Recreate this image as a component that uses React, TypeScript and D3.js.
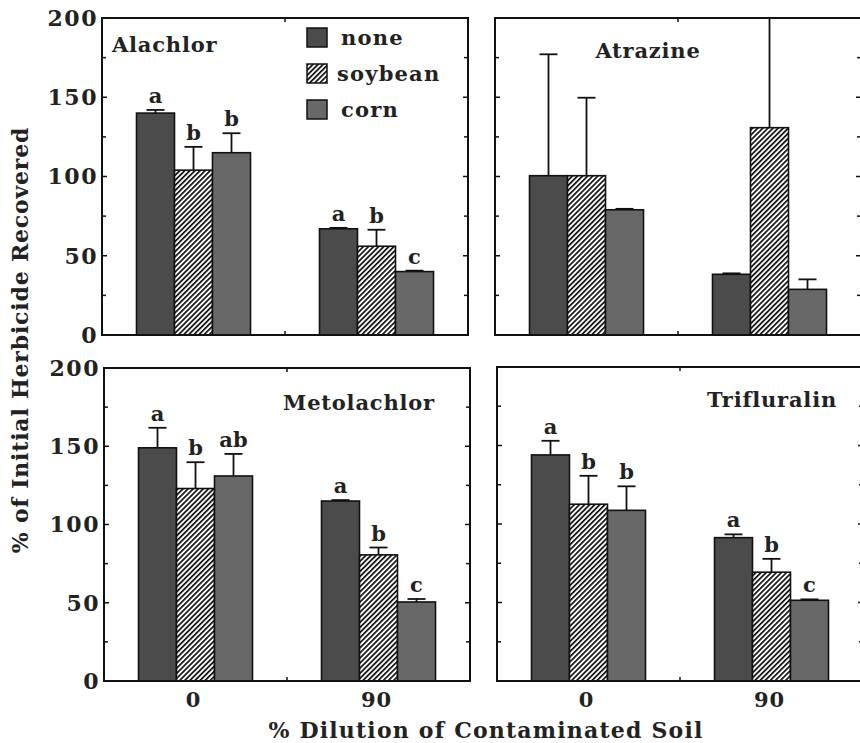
import React from "react";
import * as d3 from "d3";

// Dilution levels (x groups) and cover-crop treatments (bars within a group)
const groups = ["0", "90"];
const treatments = ["none", "soybean", "corn"];
const yTicks = [0, 50, 100, 150, 200];

// Mean % of initial herbicide recovered, ordered [0: none, soybean, corn, 90: none, soybean, corn]
const alachlorMean = [140, 104, 115, 67, 56, 40];
const alachlorErr = [2, 14.7, 12.3, 0.6, 10.4, 0.6];
const alachlorLetters = ["a", "b", "b", "a", "b", "c"];

const atrazineMean = [100.5, 100.5, 79, 38.3, 130.8, 28.8];
const atrazineErr = [76.6, 49.2, 0.6, 0.6, 100, 6.3];
const atrazineLetters = ["", "", "", "", "", ""];

const metolachlorMean = [149, 123, 131, 115, 80.6, 50.5];
const metolachlorErr = [12.8, 16.8, 14.1, 0.6, 4.7, 1.9];
const metolachlorLetters = ["a", "b", "ab", "a", "b", "c"];

const trifluralinMean = [144, 112.6, 108.7, 91.3, 69.3, 51.4];
const trifluralinErr = [9, 18.1, 15.3, 2.1, 8.5, 0.6];
const trifluralinLetters = ["a", "b", "b", "a", "b", "c"];

const FONT = "'DejaVu Serif', 'Liberation Serif', serif";

const panels = [
  { name: "Alachlor", mean: alachlorMean, err: alachlorErr, letters: alachlorLetters,
    box: { x: 102, y: 18, w: 366, h: 317 }, title: { x: 10, y: 34, anchor: "start" },
    yLabels: true, xLabels: false, legend: true },
  { name: "Atrazine", mean: atrazineMean, err: atrazineErr, letters: atrazineLetters,
    box: { x: 495, y: 18, w: 366, h: 317 }, title: { x: 153, y: 40, anchor: "middle" },
    yLabels: false, xLabels: false, legend: false },
  { name: "Metolachlor", mean: metolachlorMean, err: metolachlorErr, letters: metolachlorLetters,
    box: { x: 104, y: 368, w: 366, h: 313 }, title: { x: 255, y: 42, anchor: "middle" },
    yLabels: true, xLabels: true, legend: false },
  { name: "Trifluralin", mean: trifluralinMean, err: trifluralinErr, letters: trifluralinLetters,
    box: { x: 497, y: 367, w: 366, h: 314 }, title: { x: 340, y: 40, anchor: "end" },
    yLabels: false, xLabels: true, legend: false },
];

const fills: Record<string, string> = {
  none: "#4b4b4b",
  soybean: "url(#hatch)",
  corn: "#686868",
};

function Panel({ p }: { p: (typeof panels)[number] }) {
  const { w, h } = p.box;
  const y = d3.scaleLinear().domain([0, 200]).range([h, 0]);
  const x = d3.scalePoint<string>().domain(groups).range([0, w]).padding(0.5);
  const inner = d3.scaleBand<string>().domain(treatments).range([-57, 57]);
  const minor = d3.range(0, 201, 25);

  return (
    <g transform={`translate(${p.box.x},${p.box.y})`}>
      {/* bars, error bars and significance letters */}
      {groups.map((g, gi) =>
        treatments.map((t, ti) => {
          const i = gi * 3 + ti;
          const bx = (x(g) as number) + (inner(t) as number);
          const bw = inner.bandwidth();
          const cx = bx + bw / 2;
          const top = p.mean[i] + p.err[i];
          const clipped = top > 200;
          const yTop = y(Math.min(top, 200));
          return (
            <g key={`${g}-${t}`}>
              <line x1={cx} x2={cx} y1={y(p.mean[i])} y2={yTop} stroke="#111" strokeWidth={1.8} />
              {!clipped && (
                <line x1={cx - 9} x2={cx + 9} y1={yTop} y2={yTop} stroke="#111" strokeWidth={1.8} />
              )}
              <rect x={bx} y={y(p.mean[i])} width={bw} height={h - y(p.mean[i])}
                fill={fills[t]} stroke="#111" strokeWidth={1.6} />
              {p.letters[i] && (
                <text x={cx} y={yTop - 7} textAnchor="middle" fontSize={21}
                  fontWeight="bold" fill="#222">{p.letters[i]}</text>
              )}
            </g>
          );
        })
      )}

      {/* frame */}
      <rect x={0} y={0} width={w} height={h} fill="none" stroke="#111" strokeWidth={2} />

      {/* inward ticks on left and right edges */}
      {minor.map((v) => {
        const len = v % 50 === 0 ? 5 : 4;
        return (
          <g key={v}>
            <line x1={0} x2={len} y1={y(v)} y2={y(v)} stroke="#111" strokeWidth={1.5} />
            <line x1={w} x2={w - len} y1={y(v)} y2={y(v)} stroke="#111" strokeWidth={1.5} />
          </g>
        );
      })}
      {/* centre ticks on top and bottom edges */}
      <line x1={w / 2} x2={w / 2} y1={0} y2={4} stroke="#111" strokeWidth={1.5} />
      <line x1={w / 2} x2={w / 2} y1={h} y2={h - 4} stroke="#111" strokeWidth={1.5} />

      {p.yLabels &&
        yTicks.map((v) => (
          <text key={v} x={-4} y={y(v)} dy="0.36em" textAnchor="end" fontSize={22}
            letterSpacing={1.5} fontWeight="bold" fill="#222">{v}</text>
        ))}

      {p.xLabels &&
        groups.map((g) => (
          <text key={g} x={(x(g) as number) - 2} y={h + 26} textAnchor="middle" fontSize={21}
            letterSpacing={1} fontWeight="bold" fill="#222">{g}</text>
        ))}

      <text x={p.title.x} y={p.title.y} textAnchor={p.title.anchor as any} fontSize={21}
        letterSpacing={0.8} fontWeight="bold" fill="#222">{p.name}</text>

      {p.legend &&
        treatments.map((t, i) => (
          <g key={t} transform={`translate(205,${10 + i * 36})`}>
            <rect x={0} y={0} width={20} height={19} fill={fills[t]} stroke="#111" strokeWidth={1.5} />
            <text x={t === "soybean" ? 30 : 34} y={17} fontSize={21} letterSpacing={1.2}
              fontWeight="bold" fill="#222">{t}</text>
          </g>
        ))}
    </g>
  );
}

export default function App() {
  return (
    <svg width={860} height={743} style={{ position: "absolute", left: 0, top: 0, background: "#fff" }}
      fontFamily={FONT}>
      <defs>
        <pattern id="hatch" patternUnits="userSpaceOnUse" width={3.6} height={10}
          patternTransform="rotate(45)">
          <rect x={0} y={0} width={3.6} height={10} fill="#fff" />
          <rect x={0} y={0} width={1.7} height={10} fill="#111" />
        </pattern>
      </defs>
      <rect x={0} y={0} width={860} height={743} fill="#fff" />
      {panels.map((p) => (
        <Panel key={p.name} p={p} />
      ))}
      <text transform="translate(28,340) rotate(-90)" textAnchor="middle" fontSize={22}
        letterSpacing={0.8} fontWeight="bold" fill="#222">% of Initial Herbicide Recovered</text>
      <text x={486} y={738} textAnchor="middle" fontSize={22} letterSpacing={1.2}
        fontWeight="bold" fill="#222">
        % Dilution of Contaminated Soil
      </text>
    </svg>
  );
}
